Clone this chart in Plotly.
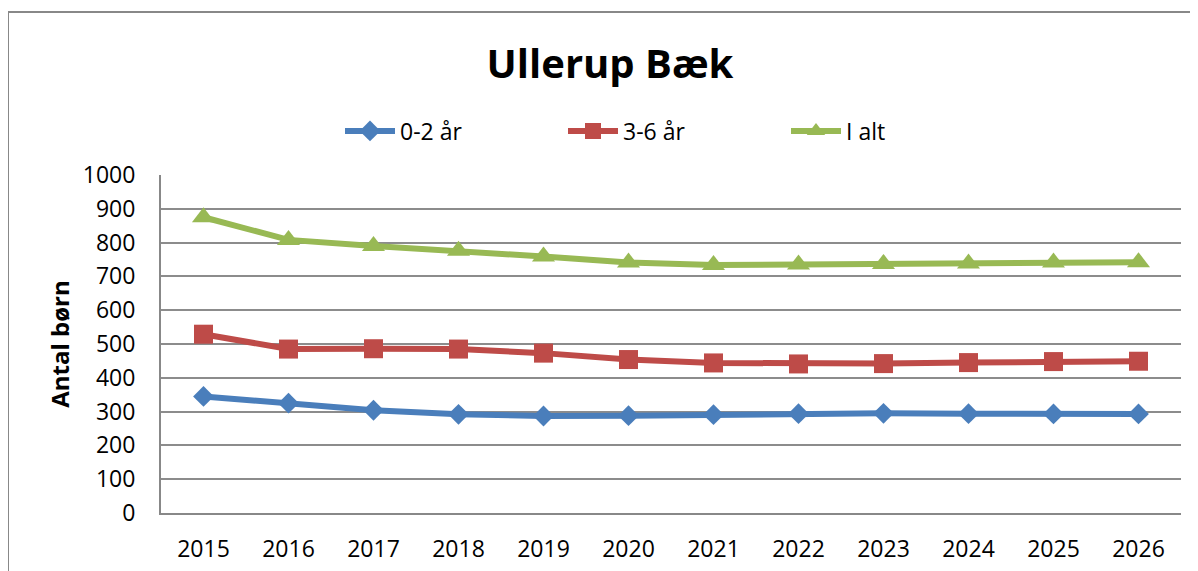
import plotly.graph_objects as go

years = ["2015", "2016", "2017", "2018", "2019", "2020", "2021", "2022", "2023", "2024", "2025", "2026"]
age_0_2 = [345, 325, 304, 292, 287, 288, 291, 294, 295, 294, 293, 293]
age_3_6 = [529, 485, 486, 485, 473, 454, 444, 441, 442, 445, 448, 449]
total = [875, 808, 790, 776, 759, 741, 734, 735, 737, 738, 741, 742]

series = [
    ("0-2 år", age_0_2, "#4A7EBB", "diamond", 16),
    ("3-6 år", age_3_6, "#BE4B48", "square", 19),
    ("I alt", total, "#98B954", "triangle-up", 20),
]

fig = go.Figure()
for name, vals, color, sym, size in series:
    fig.add_trace(go.Scatter(
        x=years, y=vals, name=name, mode="lines+markers",
        line=dict(color=color, width=6),
        marker=dict(symbol=sym, size=size, color=color),
    ))

# page body has an 8px margin, so the figure is drawn 8px in from the top-left
OFF = 8
W, H = 1198 - OFF, 571 - OFF
L, T = 161 - OFF, 175 - OFF
R = W - (1181 - OFF)
B = H - (513 - OFF)
pw, ph = W - L - R, H - T - B

fig.update_layout(
    width=W, height=H,
    margin=dict(l=L, r=R, t=T, b=B, autoexpand=False),
    paper_bgcolor="white", plot_bgcolor="white",
    font=dict(family="Open Sans", size=23, color="black"),
    title=dict(text="<b>Ullerup Bæk</b>", x=(610 - 161) / pw, xref="paper", xanchor="center",
               y=1 - (64 - OFF) / H, yanchor="middle", font=dict(size=40, family="Open Sans")),
    legend=dict(orientation="h", x=(340 - 161) / pw, xanchor="left", y=(513 - 131) / ph,
                yanchor="middle", yref="paper", entrywidth=158, entrywidthmode="pixels",
                font=dict(size=23), itemwidth=50),
    showlegend=True,
    xaxis=dict(showgrid=False, showline=True, linecolor="#888888", linewidth=2,
               range=[-0.5, 11.5],
               ticks="", ticklabelstandoff=14, tickfont=dict(size=23), fixedrange=True),
    yaxis=dict(range=[0, 1000], dtick=100, showgrid=True, gridcolor="#8c8c8c", gridwidth=2,
               showline=True, linecolor="#888888", linewidth=2, ticks="",
               ticklabelstandoff=19, tickfont=dict(size=23), zeroline=False,
               title=dict(text="<b>Antal børn</b>", font=dict(size=24), standoff=6)),
    shapes=[dict(type="rect", xref="paper", yref="paper",
                 x0=(8 - 161) / pw, x1=(1205 - 161) / pw, y0=-0.4, y1=(513 - 12) / ph,
                 line=dict(color="#888888", width=2), fillcolor="rgba(0,0,0,0)", layer="below")],
)

fig.write_html("out.html")
